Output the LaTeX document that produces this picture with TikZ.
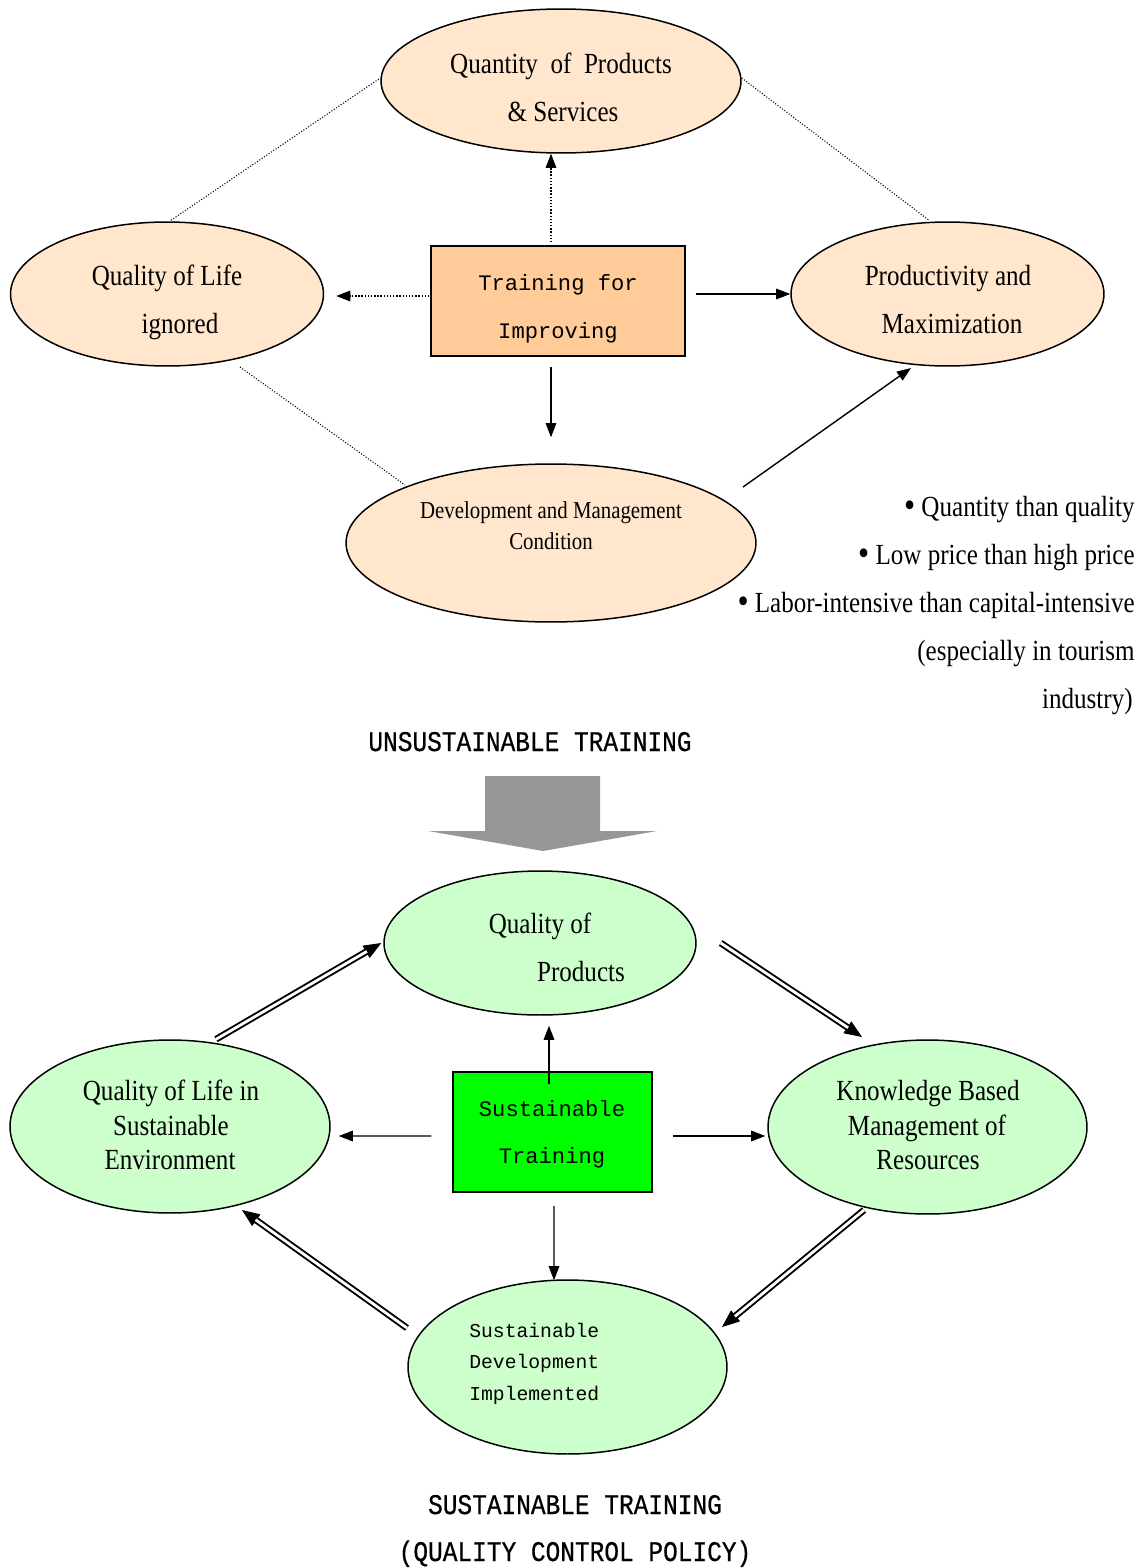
\documentclass[tikz,border=0pt]{standalone}
\usepackage{fontspec}
\usetikzlibrary{shapes.geometric,arrows.meta,calc}
\newfontfamily\labfam[FakeStretch=0.86]{Liberation Serif}
\newfontfamily\monofam{Liberation Mono}
\newfontfamily\titlefam[FakeStretch=0.86,FakeBold=0.6]{Liberation Mono}
\newcommand\labf{\labfam\fontsize{16.6pt}{19pt}\selectfont}
\newcommand\smallf{\labfam\fontsize{13.8pt}{16pt}\selectfont}
\newcommand\monof{\monofam\fontsize{12.6pt}{15pt}\selectfont}
\newcommand\monosf{\monofam\fontsize{11.2pt}{14pt}\selectfont}
\newcommand\titlef{\titlefam\fontsize{16.2pt}{19pt}\selectfont}
\newcommand\bul{\raisebox{-0.6pt}{\fontsize{21pt}{21pt}\selectfont\textbullet}}
\definecolor{peach}{HTML}{FFE6CC}
\definecolor{peachbox}{HTML}{FFCC99}
\definecolor{lgreen}{HTML}{CCFFCC}
\definecolor{vgreen}{HTML}{00FF00}
\definecolor{bigarrow}{HTML}{969696}
\tikzset{
  pe/.style={ellipse, draw, line width=0.85pt, fill=peach, inner sep=0pt},
  ge/.style={ellipse, draw, line width=0.85pt, fill=lgreen, inner sep=0pt},
  boxn/.style={rectangle, draw, line width=0.85pt, inner sep=0pt},
  lab/.style={font=\labf, inner sep=0pt, anchor=base},
  slab/.style={font=\smallf, inner sep=0pt, anchor=base},
  mlab/.style={font=\monof, inner sep=0pt, anchor=base},
  mslab/.style={font=\monosf, inner sep=0pt, anchor=base west},
  tlab/.style={font=\titlef, inner sep=0pt, anchor=base},
  blab/.style={font=\labf, inner sep=0pt, anchor=base east},
  arr/.style={-{Triangle[length=8pt,width=6pt]}, line width=0.8pt},
  dotarr/.style={arr, densely dotted, line width=0.7pt},
  dotline/.style={densely dotted, line width=0.6pt},
  dbl/.style={double, line width=1.1pt, double distance=1.6pt},
  dtip/.style={-{Triangle[length=10pt,width=8pt]}, line width=0.5pt}
}
\newcommand\dblarr[2]{%
  \draw[dtip] ($(#2)!13pt!(#1)$) -- (#2);
  \draw[dbl, shorten >=9.5pt] (#1) -- (#2);}
\begin{document}
\begin{tikzpicture}[x=0.02cm,y=-0.02cm]
\useasboundingbox (0,0) rectangle (1147,1568);

% ---------- top: unsustainable training ----------
\node[pe, minimum width=7.2cm, minimum height=2.88cm] (qp) at (561,81) {};
\node[pe, minimum width=6.26cm, minimum height=2.88cm] (ql) at (167,294) {};
\node[pe, minimum width=6.26cm, minimum height=2.88cm] (pm) at (947.5,294) {};
\node[pe, minimum width=8.2cm, minimum height=3.16cm] (dm) at (551,543) {};
\node[boxn, fill=peachbox, minimum width=5.08cm, minimum height=2.2cm] (tr) at (558,301) {};

\node[lab] (t1) at (561,73) {Quantity\ \ of\ \ Products};
\node[lab] (t2) at (563,121) {\& Services};
\node[lab] (t3) at (167,285) {Quality of Life};
\node[lab] (t4) at (180,333) {ignored};
\node[lab] (t5) at (948,285) {Productivity and};
\node[lab] (t6) at (952,333) {Maximization};
\node[slab] (t7) at (551,518) {Development and Management};
\node[slab] (t8) at (551,549) {Condition};
\node[mlab] (t9) at (558,290) {Training for};
\node[mlab] (t10) at (558,338) {Improving};

% connectors
\draw[dotarr] ([shift={(-7,-3)}]tr.north) -- ([shift={(-10,0)}]qp.south);
\draw[dotarr] ([shift={(-1,-5)}]tr.west) -- ([shift={(12,2)}]ql.east);
\draw[arr] ([shift={(10,-7)}]tr.east) -- (pm.west);
\draw[arr] ([shift={(-7,10)}]tr.south) -- ([shift={(0,-26)}]dm.north);
\draw[arr] ([shift={(192,-56)}]dm.center) -- ([shift={(-36.5,74)}]pm.center);
\draw[dotline] ([shift={(4,-1)}]ql.north) -- ([shift={(0,-3)}]qp.west);
\draw[dotline] ([shift={(0,-3)}]qp.east) -- ([shift={(-18.5,-1)}]pm.north);
\draw[dotline] ([shift={(73,73)}]ql.center) -- ([shift={(-146,-58)}]dm.center);

% bullets
\node[blab] (b1) at (1135,516) {\bul\ Quantity than quality};
\node[blab] (b2) at (1135,564) {\bul\ Low price than high price};
\node[blab] (b3) at (1135,612) {\bul\ Labor-intensive than capital-intensive};
\node[blab] (b4) at (1135,660) {(especially in tourism};
\node[blab] (b5) at (1133,708) {industry)};

\node[tlab] (title1) at (530,751) {UNSUSTAINABLE TRAINING};

% big gray arrow
\fill[bigarrow] (485,776) -- (600,776) -- (600,831) -- (657,831) -- (543,851)
  -- (428,831) -- (485,831) -- cycle;

% ---------- bottom: sustainable training ----------
\node[ge, minimum width=6.24cm, minimum height=2.88cm] (gq) at (540,943) {};
\node[ge, minimum width=6.4cm, minimum height=3.46cm] (gl) at (170,1126.5) {};
\node[ge, minimum width=6.38cm, minimum height=3.48cm] (gr) at (927.5,1127) {};
\node[ge, minimum width=6.38cm, minimum height=3.48cm] (gb) at (567.5,1367) {};
\node[boxn, fill=vgreen, minimum width=3.98cm, minimum height=2.4cm] (st) at (552.5,1132) {};

\node[lab] (u1) at (540,933) {Quality of};
\node[lab] (u2) at (581,981) {Products};
\node[lab] (u3) at (171,1100) {Quality of Life in};
\node[lab] (u4) at (171,1135) {Sustainable};
\node[lab] (u5) at (170,1169) {Environment};
\node[lab] (u6) at (928,1100) {Knowledge Based};
\node[lab] (u7) at (927,1135) {Management of};
\node[lab] (u8) at (928,1169) {Resources};
\node[mlab] (u9) at (552,1116) {Sustainable};
\node[mlab] (u10) at (552,1163) {Training};
\node[mslab] (u11) at (469,1337) {Sustainable};
\node[mslab] (u12) at (469,1368) {Development};
\node[mslab] (u13) at (469,1400) {Implemented};

% connectors
\draw[arr] ([shift={(-3.5,13)}]st.north) -- ([shift={(9,10)}]gq.south);
\draw[arr] ([shift={(-21,4)}]st.west) -- ([shift={(8,9.5)}]gl.east);
\draw[arr] ([shift={(20,4)}]st.east) -- ([shift={(-2,9)}]gr.west);
\draw[arr] ([shift={(1.5,13)}]st.south) -- ([shift={(-13.5,1)}]gb.north);

\coordinate (d1s) at ([shift={(46,0)}]gl.north);
\coordinate (d1e) at ([shift={(-2,0)}]gq.west);
\coordinate (d2s) at ([shift={(24,0)}]gq.east);
\coordinate (d2e) at ([shift={(-65.5,-90)}]gr.center);
\coordinate (d3s) at ([shift={(-63.5,83)}]gr.center);
\coordinate (d3e) at ([shift={(154.5,-40)}]gb.center);
\coordinate (d4s) at ([shift={(-160.5,-39)}]gb.center);
\coordinate (d4e) at ([shift={(72,83.5)}]gl.center);
\dblarr{d1s}{d1e}
\dblarr{d2s}{d2e}
\dblarr{d3s}{d3e}
\dblarr{d4s}{d4e}

\node[tlab] (title2) at (575,1514) {SUSTAINABLE TRAINING};
\node[tlab] (title3) at (575,1561) {(QUALITY CONTROL POLICY)};
\end{tikzpicture}
\end{document}
